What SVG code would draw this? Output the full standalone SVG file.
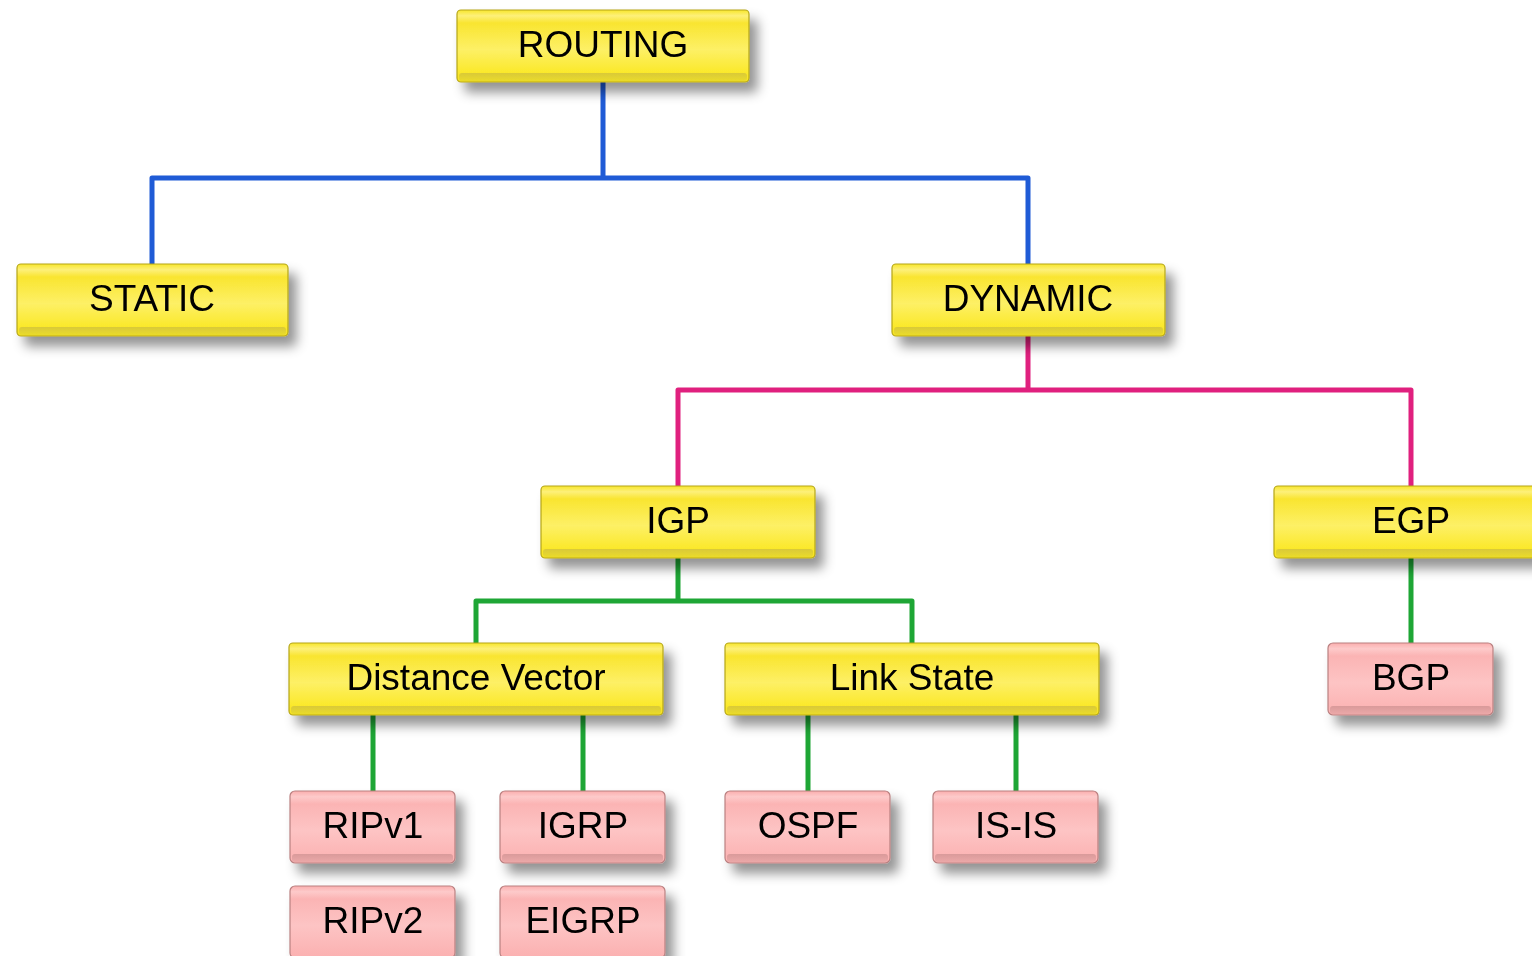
<svg xmlns="http://www.w3.org/2000/svg" width="1532" height="956" viewBox="0 0 1532 956">
  <defs>
    <linearGradient id="gYellow" x1="0" y1="0" x2="0" y2="1">
      <stop offset="0" stop-color="#f8e62a"/>
      <stop offset="0.08" stop-color="#fdf07a"/>
      <stop offset="0.18" stop-color="#f9e530"/>
      <stop offset="0.55" stop-color="#fdf066"/>
      <stop offset="0.85" stop-color="#fbe92e"/>
      <stop offset="1" stop-color="#f6e21e"/>
    </linearGradient>
    <linearGradient id="gYellowBand" x1="0" y1="0" x2="0" y2="1">
      <stop offset="0" stop-color="#d9c938"/>
      <stop offset="1" stop-color="#eadb2a"/>
    </linearGradient>
    <linearGradient id="gPink" x1="0" y1="0" x2="0" y2="1">
      <stop offset="0" stop-color="#fbaeae"/>
      <stop offset="0.08" stop-color="#fdcaca"/>
      <stop offset="0.18" stop-color="#fbb4b4"/>
      <stop offset="0.55" stop-color="#fdc4c4"/>
      <stop offset="1" stop-color="#fbb0b0"/>
    </linearGradient>
    <linearGradient id="gPinkBand" x1="0" y1="0" x2="0" y2="1">
      <stop offset="0" stop-color="#d99a9a"/>
      <stop offset="1" stop-color="#eba8a8"/>
    </linearGradient>
    <filter id="shadow" x="-10%" y="-25%" width="135%" height="170%">
      <feDropShadow dx="8" dy="10" stdDeviation="6" flood-color="#000" flood-opacity="0.42"/>
    </filter>
    <style>
      .yb { fill: url(#gYellow); stroke: #b5a61a; stroke-width: 1.2; }
      .yband { fill: url(#gYellowBand); }
      .pb { fill: url(#gPink); stroke: #b98080; stroke-width: 1.2; }
      .pband { fill: url(#gPinkBand); }
      .lbl { font-family: "Liberation Sans", Arial, sans-serif; font-size: 37px; fill: #000; text-anchor: middle; }
      .c { fill: none; stroke-width: 5; stroke-linecap: round; stroke-linejoin: round; }
      .blue { stroke: #1f5bd6; }
      .pink { stroke: #e0207e; }
      .green { stroke: #1ea635; }
    </style>
  </defs>

  <rect width="1532" height="956" fill="#ffffff"/>

  <!-- connectors -->
  <g id="connectors">
    <path class="c blue" d="M603 82 V178 M152 264 V178 H1028 V264"/>
    <path class="c pink" d="M1028 336 V390 M678 486 V390 H1411 V486"/>
    <path class="c green" d="M678 558 V601 M476 643 V601 H912 V643"/>
    <path class="c green" d="M1411 558 V643"/>
    <path class="c green" d="M373 715 V791 M583 715 V791"/>
    <path class="c green" d="M808 715 V791 M1016 715 V791"/>
  </g>

  <!-- yellow category nodes -->
  <g id="routing" filter="url(#shadow)">
    <rect class="yb" x="457" y="10" width="292" height="72" rx="4"/>
    <rect class="yband" x="459" y="73" width="288" height="8" rx="3"/>
    <text class="lbl" x="603" y="57">ROUTING</text>
  </g>
  <g id="static" filter="url(#shadow)">
    <rect class="yb" x="17" y="264" width="271" height="72" rx="4"/>
    <rect class="yband" x="19" y="327" width="267" height="8" rx="3"/>
    <text class="lbl" x="152" y="311">STATIC</text>
  </g>
  <g id="dynamic" filter="url(#shadow)">
    <rect class="yb" x="892" y="264" width="273" height="72" rx="4"/>
    <rect class="yband" x="894" y="327" width="269" height="8" rx="3"/>
    <text class="lbl" x="1028" y="311">DYNAMIC</text>
  </g>
  <g id="igp" filter="url(#shadow)">
    <rect class="yb" x="541" y="486" width="274" height="72" rx="4"/>
    <rect class="yband" x="543" y="549" width="270" height="8" rx="3"/>
    <text class="lbl" x="678" y="533">IGP</text>
  </g>
  <g id="egp" filter="url(#shadow)">
    <rect class="yb" x="1274" y="486" width="274" height="72" rx="4"/>
    <rect class="yband" x="1276" y="549" width="270" height="8" rx="3"/>
    <text class="lbl" x="1411" y="533">EGP</text>
  </g>
  <g id="distance-vector" filter="url(#shadow)">
    <rect class="yb" x="289" y="643" width="374" height="72" rx="4"/>
    <rect class="yband" x="291" y="706" width="370" height="8" rx="3"/>
    <text class="lbl" x="476" y="690">Distance Vector</text>
  </g>
  <g id="link-state" filter="url(#shadow)">
    <rect class="yb" x="725" y="643" width="374" height="72" rx="4"/>
    <rect class="yband" x="727" y="706" width="370" height="8" rx="3"/>
    <text class="lbl" x="912" y="690">Link State</text>
  </g>

  <!-- pink protocol nodes -->
  <g id="bgp" filter="url(#shadow)">
    <rect class="pb" x="1328" y="643" width="165" height="72" rx="5"/>
    <rect class="pband" x="1330" y="706" width="161" height="8" rx="3"/>
    <text class="lbl" x="1411" y="690">BGP</text>
  </g>
  <g id="ripv1" filter="url(#shadow)">
    <rect class="pb" x="290" y="791" width="165" height="72" rx="5"/>
    <rect class="pband" x="292" y="854" width="161" height="8" rx="3"/>
    <text class="lbl" x="373" y="838">RIPv1</text>
  </g>
  <g id="igrp" filter="url(#shadow)">
    <rect class="pb" x="500" y="791" width="165" height="72" rx="5"/>
    <rect class="pband" x="502" y="854" width="161" height="8" rx="3"/>
    <text class="lbl" x="583" y="838">IGRP</text>
  </g>
  <g id="ospf" filter="url(#shadow)">
    <rect class="pb" x="725" y="791" width="165" height="72" rx="5"/>
    <rect class="pband" x="727" y="854" width="161" height="8" rx="3"/>
    <text class="lbl" x="808" y="838">OSPF</text>
  </g>
  <g id="is-is" filter="url(#shadow)">
    <rect class="pb" x="933" y="791" width="165" height="72" rx="5"/>
    <rect class="pband" x="935" y="854" width="161" height="8" rx="3"/>
    <text class="lbl" x="1016" y="838">IS-IS</text>
  </g>
  <g id="ripv2" filter="url(#shadow)">
    <rect class="pb" x="290" y="886" width="165" height="72" rx="5"/>
    <text class="lbl" x="373" y="933">RIPv2</text>
  </g>
  <g id="eigrp" filter="url(#shadow)">
    <rect class="pb" x="500" y="886" width="165" height="72" rx="5"/>
    <text class="lbl" x="583" y="933">EIGRP</text>
  </g>
</svg>
